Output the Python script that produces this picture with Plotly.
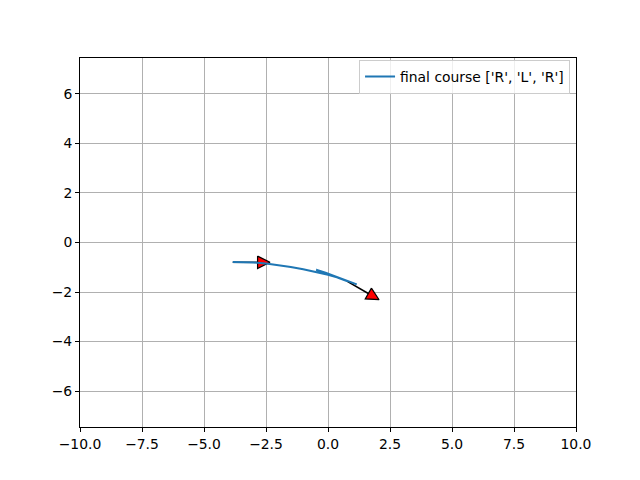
import math
import plotly.graph_objects as go

# Path data (final course R, L, R)
path_x = [-3.84, -3.5, -3.0, -2.5, -2.0, -1.5, -1.0, -0.5, 0.0, 0.5, 1.0, 1.16,
          0.8, 0.3, -0.1, -0.48,
          -0.1, 0.3, 0.76]
path_y = [-0.79, -0.795, -0.81, -0.85, -0.91, -0.99, -1.08, -1.18, -1.30, -1.45, -1.62, -1.69,
          -1.57, -1.37, -1.22, -1.10,
          -1.23, -1.39, -1.56]
legend_label = "final course ['R', 'L', 'R']"

# Start and goal poses (x, y, yaw in degrees)
pose_x = [-3.84, 0.76]
pose_y = [-0.80, -1.56]
pose_yaw = [0.0, -30.0]

arrow_length = 1.0
head_size = 0.5

x_ticks = [-10.0, -7.5, -5.0, -2.5, 0.0, 2.5, 5.0, 7.5, 10.0]
y_ticks = [-6, -4, -2, 0, 2, 4, 6]

fig = go.Figure()

for x0, y0, yaw_deg in zip(pose_x, pose_y, pose_yaw):
    yaw = math.radians(yaw_deg)
    c, s = math.cos(yaw), math.sin(yaw)
    bx, by = x0 + arrow_length * c, y0 + arrow_length * s
    tx, ty = bx + head_size * c, by + head_size * s
    px, py = -s * head_size / 2, c * head_size / 2
    fig.add_trace(go.Scatter(x=[x0, bx], y=[y0, by], mode="lines",
                             line=dict(color="black", width=1.5), showlegend=False,
                             hoverinfo="skip"))
    fig.add_trace(go.Scatter(x=[bx + px, tx, bx - px, bx + px],
                             y=[by + py, ty, by - py, by + py],
                             mode="lines", fill="toself", fillcolor="#ff0000",
                             line=dict(color="black", width=1.2), showlegend=False,
                             hoverinfo="skip"))

fig.add_trace(go.Scatter(x=path_x, y=path_y, mode="lines", name=legend_label,
                         line=dict(color="#1f77b4", width=2)))

axis_common = dict(showline=True, linecolor="black", linewidth=1, mirror=True,
                   ticks="outside", ticklen=4, tickcolor="black", tickwidth=1,
                   showgrid=True, gridcolor="#b0b0b0", gridwidth=1,
                   zeroline=False, tickfont=dict(family="DejaVu Sans", size=13.9, color="black"))

fig.update_xaxes(range=[-10, 10], tickvals=x_ticks, tickformat=".1f", **axis_common)
fig.update_yaxes(range=[-7.45, 7.45], tickvals=y_ticks, **axis_common)

fig.update_layout(
    width=640, height=480, autosize=False,
    margin=dict(l=80, r=64, t=58, b=53, pad=0),
    plot_bgcolor="white", paper_bgcolor="white",
    font=dict(family="DejaVu Sans", size=13.9, color="black"),
    legend=dict(x=0.988, y=0.995, xanchor="right", yanchor="top",
                bgcolor="rgba(255,255,255,0.8)", bordercolor="#cccccc", borderwidth=1,
                font=dict(size=13.9)),
    showlegend=True,
)

fig.write_html("out.html", config={"displayModeBar": False},
               post_script="document.body.style.margin='0px';")
